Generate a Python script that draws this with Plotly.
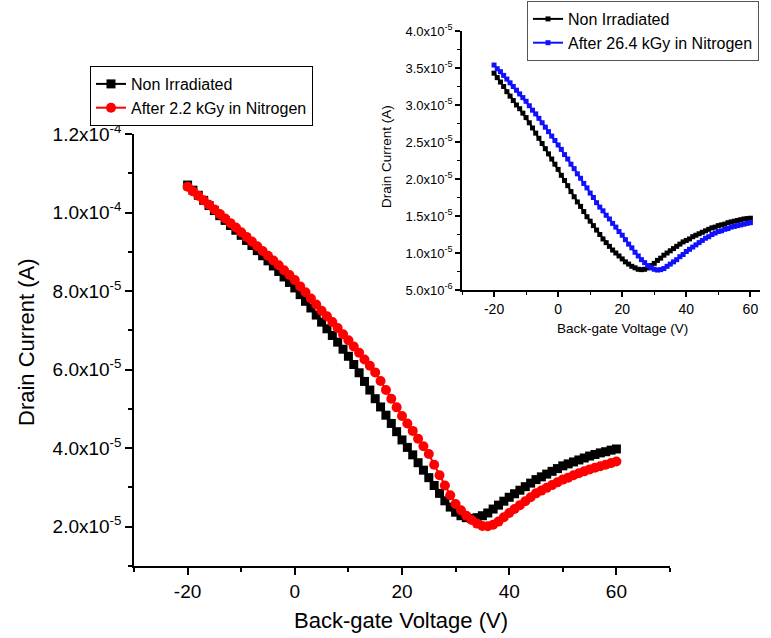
import numpy as np
import plotly.graph_objects as go

# Back-gate voltage sweep (V), 1 V steps
gate_voltage = list(range(-20, 61))

# Main panel: drain current in units of 1e-6 A
main_non_irradiated = [
    107.0, 105.7, 104.4, 103.1, 101.8, 100.5, 99.2, 98.0, 96.7, 95.5,
    94.2, 92.9, 91.6, 90.3, 89.0, 87.7, 86.4, 85.0, 83.6, 82.2,
    80.8, 79.1, 77.4, 75.7, 73.9, 72.1, 70.4, 68.7, 67.0, 65.2,
    63.4, 61.3, 59.2, 57.0, 54.8, 52.6, 50.5, 48.4, 46.3, 44.2,
    42.1, 40.2, 38.3, 36.3, 34.4, 32.5, 30.5, 28.5, 26.6, 25.0,
    23.7, 22.8, 22.3, 22.1, 22.3, 22.8, 23.5, 24.5, 25.5, 26.5,
    27.5, 28.4, 29.3, 30.2, 31.1, 32.0, 32.7, 33.4, 34.1, 34.8,
    35.5, 36.0, 36.5, 37.0, 37.5, 38.0, 38.4, 38.8, 39.1, 39.5,
    39.8,
]
main_after_2_2kGy = [
    106.6, 105.4, 104.3, 103.1, 102.0, 100.8, 99.6, 98.5, 97.3, 96.2,
    95.0, 93.8, 92.6, 91.4, 90.2, 89.0, 87.8, 86.6, 85.3, 84.1,
    82.8, 81.2, 79.7, 78.1, 76.6, 75.0, 73.6, 72.1, 70.6, 69.0,
    67.5, 65.9, 64.3, 62.6, 61.0, 59.3, 57.1, 54.8, 52.6, 50.4,
    48.2, 46.3, 44.4, 42.4, 40.5, 38.5, 35.8, 33.1, 30.5, 28.0,
    25.8, 24.2, 22.8, 21.7, 20.8, 20.2, 20.1, 20.5, 21.3, 22.4,
    23.5, 24.5, 25.5, 26.5, 27.5, 28.5, 29.2, 29.9, 30.6, 31.3,
    32.0, 32.5, 33.1, 33.6, 34.1, 34.6, 35.0, 35.4, 35.8, 36.2,
    36.6,
]

# Inset panel: drain current in units of 1e-6 A
inset_non_irradiated = [
    34.3, 33.7, 33.1, 32.5, 31.8, 31.2, 30.6, 30.0, 29.5, 28.9,
    28.3, 27.6, 26.9, 26.2, 25.5, 24.8, 24.1, 23.4, 22.7, 22.0,
    21.3, 20.5, 19.8, 19.1, 18.3, 17.6, 16.9, 16.3, 15.6, 14.9,
    14.3, 13.7, 13.1, 12.5, 11.9, 11.4, 10.9, 10.4, 10.0, 9.6,
    9.2, 8.8, 8.5, 8.2, 8.0, 7.8, 7.75, 7.8, 8.0, 8.3,
    8.6, 9.0, 9.3, 9.7, 10.0, 10.3, 10.6, 10.9, 11.2, 11.5,
    11.7, 11.9, 12.2, 12.4, 12.6, 12.8, 13.0, 13.2, 13.4, 13.5,
    13.7, 13.8, 13.9, 14.1, 14.2, 14.3, 14.4, 14.5, 14.6, 14.65,
    14.7,
]
inset_after_26_4kGy = [
    35.4, 34.9, 34.5, 34.0, 33.5, 33.0, 32.5, 32.0, 31.5, 31.0,
    30.5, 29.9, 29.3, 28.8, 28.2, 27.6, 27.0, 26.4, 25.8, 25.2,
    24.6, 24.0, 23.3, 22.7, 22.0, 21.4, 20.7, 20.1, 19.4, 18.8,
    18.1, 17.5, 16.8, 16.2, 15.7, 15.1, 14.6, 14.0, 13.5, 12.9,
    12.4, 11.8, 11.2, 10.7, 10.1, 9.6, 9.1, 8.7, 8.3, 8.0,
    7.8, 7.7, 7.75, 7.9, 8.2, 8.5, 8.8, 9.1, 9.5, 9.8,
    10.2, 10.5, 10.8, 11.1, 11.4, 11.7, 12.0, 12.2, 12.5, 12.7,
    12.9, 13.0, 13.2, 13.3, 13.5, 13.6, 13.7, 13.8, 13.9, 14.0,
    14.1,
]

# Tick positions and labels
main_x_ticks = [-20, 0, 20, 40, 60]
main_x_labels = ["-20", "0", "20", "40", "60"]
main_y_ticks = [2e-5, 4e-5, 6e-5, 8e-5, 1.0e-4, 1.2e-4]
main_y_labels = ["2.0x10<sup>-5</sup>", "4.0x10<sup>-5</sup>", "6.0x10<sup>-5</sup>",
                 "8.0x10<sup>-5</sup>", "1.0x10<sup>-4</sup>", "1.2x10<sup>-4</sup>"]
inset_x_ticks = [-20, 0, 20, 40, 60]
inset_x_labels = ["-20", "0", "20", "40", "60"]
inset_y_ticks = [5e-6, 1.0e-5, 1.5e-5, 2.0e-5, 2.5e-5, 3.0e-5, 3.5e-5, 4.0e-5]
inset_y_labels = ["5.0x10<sup>-6</sup>", "1.0x10<sup>-5</sup>", "1.5x10<sup>-5</sup>",
                  "2.0x10<sup>-5</sup>", "2.5x10<sup>-5</sup>", "3.0x10<sup>-5</sup>",
                  "3.5x10<sup>-5</sup>", "4.0x10<sup>-5</sup>"]

W, H = 771, 638
FONT = "Liberation Sans, Arial, sans-serif"
scale = 1e-6


def px_x(p):
    return p / W


def px_y(p):
    return 1 - p / H


fig = go.Figure()

fig.add_trace(go.Scatter(
    x=gate_voltage, y=np.array(main_non_irradiated) * scale,
    mode="lines+markers", name="Non Irradiated",
    line=dict(color="black", width=2),
    marker=dict(symbol="square", size=9, color="black"),
    xaxis="x", yaxis="y", legend="legend",
))
fig.add_trace(go.Scatter(
    x=gate_voltage, y=np.array(main_after_2_2kGy) * scale,
    mode="lines+markers", name="After 2.2 kGy in Nitrogen",
    line=dict(color="#ff0000", width=2),
    marker=dict(symbol="circle", size=10, color="#ff0000"),
    xaxis="x", yaxis="y", legend="legend",
))
fig.add_trace(go.Scatter(
    x=gate_voltage, y=np.array(inset_non_irradiated) * scale,
    mode="lines+markers", name="Non Irradiated",
    line=dict(color="black", width=2),
    marker=dict(symbol="square", size=5, color="black"),
    xaxis="x2", yaxis="y2", legend="legend2",
))
fig.add_trace(go.Scatter(
    x=gate_voltage, y=np.array(inset_after_26_4kGy) * scale,
    mode="lines+markers", name="After 26.4 kGy in Nitrogen",
    line=dict(color="#1010ff", width=2),
    marker=dict(symbol="square", size=5, color="#1010ff"),
    xaxis="x2", yaxis="y2", legend="legend2",
))

axis_common = dict(showgrid=False, zeroline=False, showline=True, linecolor="black",
                   linewidth=1.5, mirror=False, ticks="outside", tickcolor="black",
                   tickwidth=1.5, automargin=False)

annot_common = dict(xref="paper", yref="paper", showarrow=False,
                    xanchor="center", yanchor="middle")

fig.update_layout(
    width=W, height=H,
    margin=dict(l=0, r=0, t=0, b=0, autoexpand=False),
    paper_bgcolor="white", plot_bgcolor="white",
    font=dict(family=FONT, color="black"),
    showlegend=True,
    xaxis=dict(**axis_common, domain=[px_x(134), px_x(670)], range=[-30, 70],
               tickvals=main_x_ticks, ticktext=main_x_labels, ticklen=7,
               tickfont=dict(size=19),
               minor=dict(dtick=10, tick0=0, ticklen=4, ticks="outside",
                          tickcolor="black", tickwidth=1.5),
               anchor="y"),
    yaxis=dict(**axis_common, domain=[px_y(566), px_y(134)], range=[1e-5, 1.2e-4],
               tickvals=main_y_ticks, ticktext=main_y_labels, ticklen=7,
               tickfont=dict(size=19),
               minor=dict(dtick=1e-5, tick0=0, ticklen=4, ticks="outside",
                          tickcolor="black", tickwidth=1.5),
               anchor="x"),
    xaxis2=dict(**axis_common, domain=[px_x(462), px_x(760)], range=[-30, 63],
                tickvals=inset_x_ticks, ticktext=inset_x_labels, ticklen=5,
                tickfont=dict(size=14),
                minor=dict(dtick=10, tick0=0, ticklen=3, ticks="outside",
                           tickcolor="black", tickwidth=1.2),
                anchor="y2"),
    yaxis2=dict(**axis_common, domain=[px_y(290), px_y(31)], range=[5e-6, 4e-5],
                tickvals=inset_y_ticks, ticktext=inset_y_labels, ticklen=5,
                tickfont=dict(size=13),
                minor=dict(dtick=2.5e-6, tick0=0, ticklen=3, ticks="outside",
                           tickcolor="black", tickwidth=1.2),
                anchor="x2"),
    legend=dict(x=px_x(90), y=px_y(66), xanchor="left", yanchor="top",
                bordercolor="black", borderwidth=1, bgcolor="white",
                font=dict(size=16), tracegroupgap=0, itemwidth=30),
    legend2=dict(x=px_x(527), y=px_y(1), xanchor="left", yanchor="top",
                 bordercolor="#555", borderwidth=1, bgcolor="white",
                 font=dict(size=16), tracegroupgap=0, itemwidth=30),
    annotations=[
        dict(text="Back-gate Voltage (V)", x=px_x(401), y=px_y(620),
             font=dict(size=22), **annot_common),
        dict(text="Drain Current (A)", x=px_x(26), y=px_y(343), textangle=-90,
             font=dict(size=22), **annot_common),
        dict(text="Back-gate Voltage (V)", x=px_x(622), y=px_y(328),
             font=dict(size=13.5), **annot_common),
        dict(text="Drain Current (A)", x=px_x(386), y=px_y(157), textangle=-90,
             font=dict(size=13.5), **annot_common),
    ],
)

fig.write_html("out.html")
